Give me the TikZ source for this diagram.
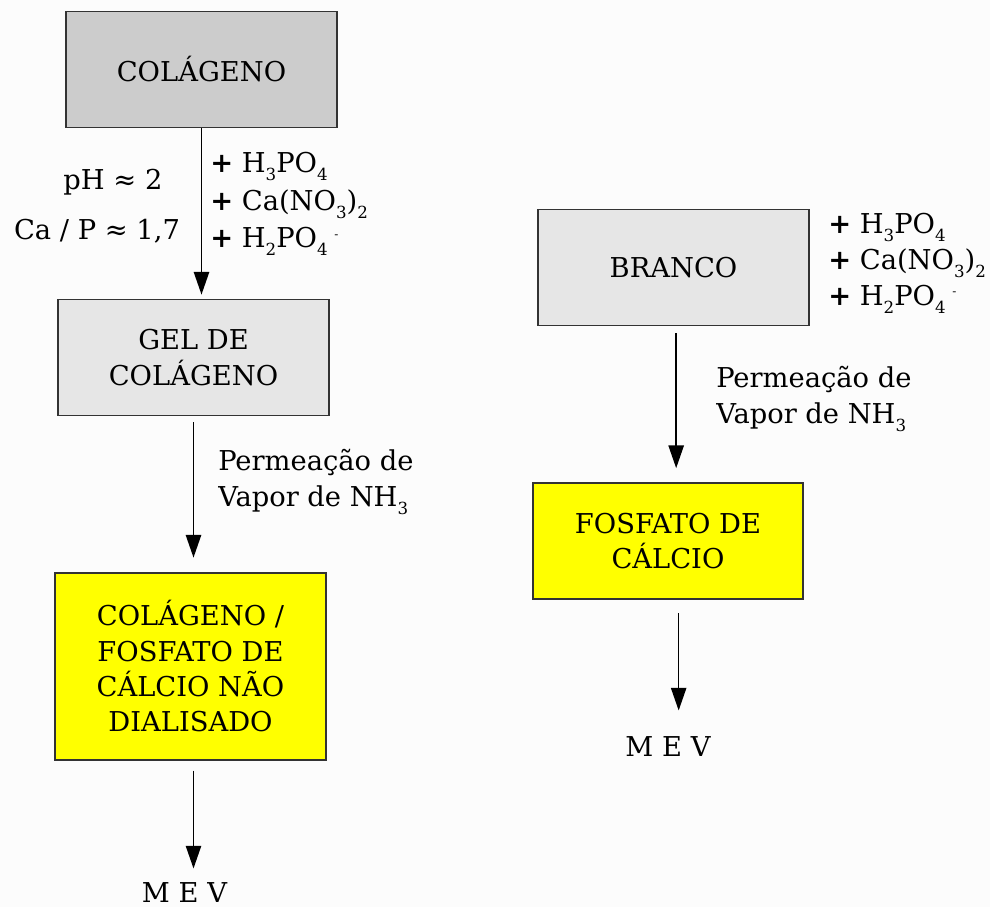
\documentclass[tikz,border=0pt]{standalone}
\usepackage{fontspec}
\setmainfont{DejaVu Serif}
\usepackage{tikz}
\usetikzlibrary{arrows.meta}
\definecolor{colgray}{RGB}{204, 204, 204}
\definecolor{lightbox}{RGB}{230, 230, 230}
\definecolor{phyellow}{RGB}{255, 255, 0}
\definecolor{edgegray}{RGB}{51, 51, 51}
\definecolor{paper}{RGB}{252, 252, 252}
\newcommand{\dn}[1]{\raisebox{-6pt}{\fontsize{12.5}{12.5}\selectfont #1}}
\newcommand{\minus}{\hspace{5pt}\raisebox{7pt}{\fontsize{9}{9}\selectfont -}}
\newcommand{\pl}{\textbf{+}}

\begin{document}
\begin{tikzpicture}[x=0.75pt, y=-0.75pt, font=\fontsize{20.5}{26.5}\selectfont,
  box/.style={draw=edgegray, line width=1.3pt, align=center, minimum width=203pt, minimum height=87pt, inner sep=3pt},
  arr/.style={line width=1.1pt, -{Triangle[length=17pt, width=11.5pt]}},
  lbl/.style={inner sep=0pt, align=left}]
  \fill[paper] (0,0) rectangle (990,907);
  \useasboundingbox (0,0) rectangle (990,907);
  \node[box, fill=colgray] (col) at (201.5,69.5) {COLÁGENO};
  \node[box, fill=lightbox] (gel) at (193.5,357.5) {GEL DE\\ COLÁGENO};
  \node[box, fill=phyellow, minimum height=140pt] (cfd) at (190.5,666.5) {COLÁGENO /\\ FOSFATO DE\\ CÁLCIO NÃO\\ DIALISADO};
  \node[box, fill=lightbox] (branco) at (673.5,267.5) {BRANCO};
  \node[box, fill=phyellow] (fosf) at (668,541) {FOSFATO DE\\ CÁLCIO};
  \node[lbl] (ph) at (113,182) {pH ≈ 2};
  \node[lbl] (cap) at (97,231) {Ca / P ≈ 1,7};
  \node[lbl, anchor=west, font=\fontsize{20.5}{28}\selectfont] (reag1) at (210,204) {\pl{} H\dn{3}PO\dn{4}\\ \pl{} Ca(NO\dn{3})\dn{2}\\ \pl{} H\dn{2}PO\dn{4}\minus};
  \node[lbl, anchor=west, font=\fontsize{20.5}{27}\selectfont] (reag2) at (828,263) {\pl{} H\dn{3}PO\dn{4}\\ \pl{} Ca(NO\dn{3})\dn{2}\\ \pl{} H\dn{2}PO\dn{4}\minus};
  \node[lbl, anchor=west] (perm1) at (218,482) {Permeação de\\ Vapor de NH\dn{3}};
  \node[lbl, anchor=west] (perm2) at (716,399) {Permeação de\\ Vapor de NH\dn{3}};
  \node[inner sep=0pt, anchor=base] (mev1) at (184.5,902) {M E V};
  \node[inner sep=0pt, anchor=base] (mev2) at (668,756) {M E V};
  \draw[arr, shorten >=3pt] (col.south) -- (col.south |- gel.north);
  \draw[arr, shorten <=4.5pt, shorten >=11pt] (gel.south) -- (gel.south |- cfd.north);
  \draw[arr, shorten <=7.5pt, shorten >=10pt] (gel.south |- cfd.south) -- (gel.south |- mev1.north);
  \draw[arr, shorten <=5pt, shorten >=10.5pt] ([xshift=2pt]branco.south) -- ([xshift=2pt]branco.south |- fosf.north);
  \draw[arr, shorten <=10pt, shorten >=19pt] ([xshift=8pt]fosf.south) -- ([xshift=8pt]fosf.south |- mev2.north);
\end{tikzpicture}
\end{document}
